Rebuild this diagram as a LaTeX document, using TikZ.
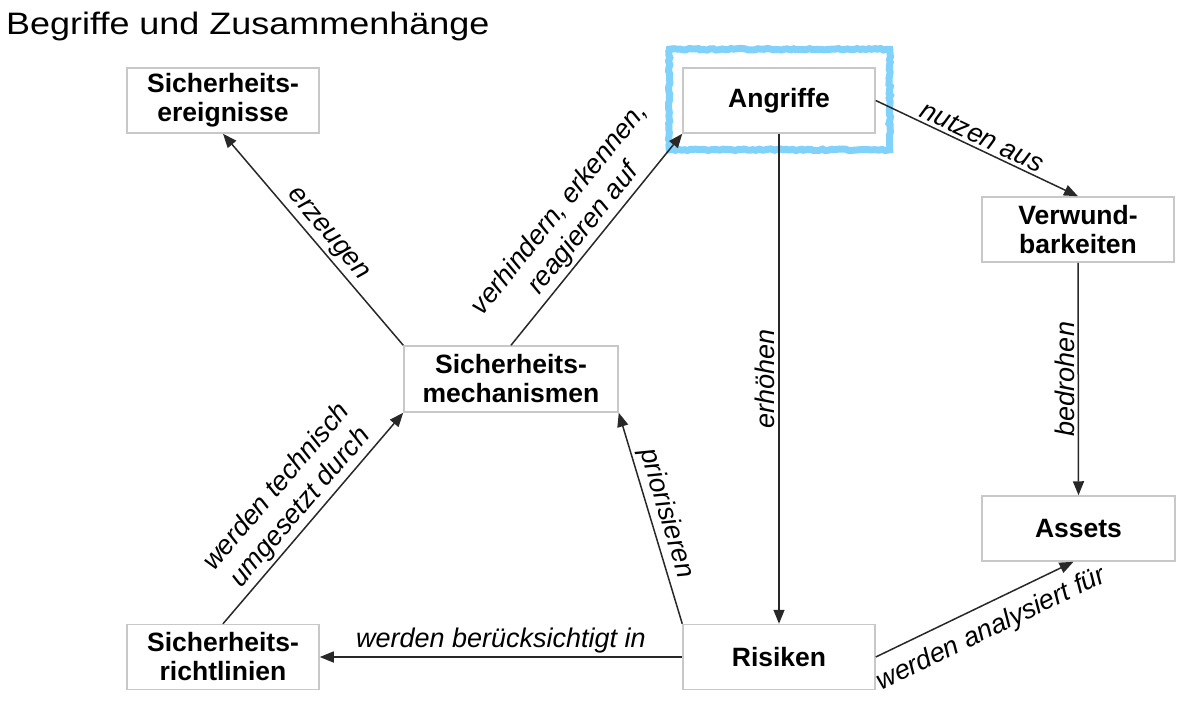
\documentclass[tikz,border=0pt]{standalone}
\usepackage{fontspec}
\setmainfont{Liberation Sans}
\usetikzlibrary{arrows.meta,decorations.pathmorphing}
\definecolor{boxgray}{RGB}{200,200,200}
\definecolor{hlblue}{RGB}{128,210,250}
\definecolor{linegray}{RGB}{40,40,40}
\begin{document}
\begin{tikzpicture}[x=1pt,y=-1pt,
  box/.style={draw=boxgray,line width=1.5pt,fill=white,minimum width=192pt,minimum height=65pt,inner sep=0pt,align=center,font=\fontsize{26.5}{29}\selectfont\bfseries},
  conn/.style={draw=linegray,line width=1.5pt,-{Triangle[length=14pt,width=11pt]}},
  lbl/.style={font=\fontsize{27}{31}\selectfont\itshape,align=center,inner sep=3pt},
  hl/.style={draw=hlblue,line width=7pt,decorate,decoration={random steps,segment length=3pt,amplitude=0.8pt}}]
\useasboundingbox (0,0) rectangle (1187,702);
\node[anchor=base west,font=\fontsize{31}{36}\selectfont,xscale=1.16,inner sep=0pt] (title) at (6,34) {Begriffe und Zusammenhänge};

\node[box] (ang) at (779,100.5) {Angriffe};
\node[box] (ere) at (223,100.5) {Sicherheits-\\ereignisse};
\node[box,minimum width=214pt,minimum height=66pt] (mech) at (511,379) {Sicherheits-\\mechanismen};
\node[box] (ris) at (779,657) {Risiken};
\node[box] (ver) at (1078,229.5) {Verwund-\\barkeiten};
\node[box] (ric) at (223,657) {Sicherheits-\\richtlinien};
\node[box,minimum width=193pt] (ass) at (1078.5,528.5) {Assets};

\draw[hl] ([shift={(-13,-18)}]ang.north west) rectangle ([shift={(14,16)}]ang.south east);

\draw[conn] (mech.north west) -- node[lbl,sloped,above,pos=0.48] {erzeugen} (ere.south);
\draw[conn] (mech.north) -- node[lbl,sloped,above,pos=0.5] {verhindern, erkennen,\\reagieren auf} (ang.south west);
\draw[conn] (ric.north) -- node[lbl,sloped,above,pos=0.5] {werden technisch\\umgesetzt durch} (mech.south west);
\draw[conn] (ris.north west) -- node[lbl,sloped,above,pos=0.5] {priorisieren} (mech.south east);
\draw[conn] (ang.south) -- node[lbl,rotate=90,anchor=south] {erhöhen} (ris.north);
\draw[conn] (ver.south) -- node[lbl,rotate=90,anchor=south] {bedrohen} (ass.north);
\draw[conn] (ang.east) -- node[lbl,sloped,above,pos=0.5] {nutzen aus} (ver.north);
\draw[conn] (ris.east) -- node[lbl,sloped,below=9pt,pos=0.53] {werden analysiert für} ([xshift=-5pt]ass.south);
\draw[conn] (ris.west) -- node[lbl,above,pos=0.5] {werden berücksichtigt in} (ric.east);
\end{tikzpicture}
\end{document}
